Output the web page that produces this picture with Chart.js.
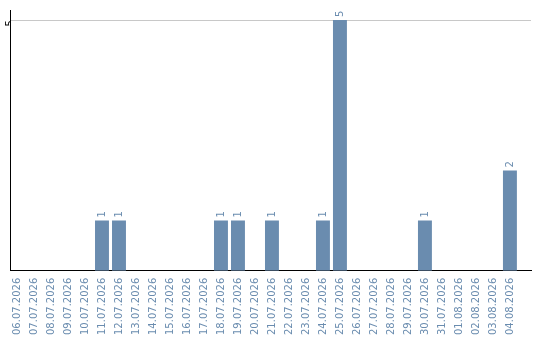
<!DOCTYPE html>
<html>
<head>
<meta charset="utf-8">
<script src="https://cdn.jsdelivr.net/npm/chart.js@4/dist/chart.umd.min.js"></script>
<style>
  html, body { margin: 0; padding: 0; background: #fff; }
  #wrap { width: 540px; height: 340px; position: relative; }
</style>
</head>
<body>
<div id="wrap"><canvas id="c"></canvas></div>
<script>
// Daily counts, 06.07.2026 – 04.08.2026
const dates = [
  '06.07.2026', '07.07.2026', '08.07.2026', '09.07.2026', '10.07.2026',
  '11.07.2026', '12.07.2026', '13.07.2026', '14.07.2026', '15.07.2026',
  '16.07.2026', '17.07.2026', '18.07.2026', '19.07.2026', '20.07.2026',
  '21.07.2026', '22.07.2026', '23.07.2026', '24.07.2026', '25.07.2026',
  '26.07.2026', '27.07.2026', '28.07.2026', '29.07.2026', '30.07.2026',
  '31.07.2026', '01.08.2026', '02.08.2026', '03.08.2026', '04.08.2026'
];
const counts = [
  0, 0, 0, 0, 0,
  1, 1, 0, 0, 0,
  0, 0, 1, 1, 0,
  1, 0, 0, 1, 5,
  0, 0, 0, 0, 1,
  0, 0, 0, 0, 2
];
const yTicks = [5];

const BAR = '#6a8caf';
const FONT = { family: 'DejaVu Sans', size: 10, lineHeight: 1 };

// Rotated value labels above each non-empty bar
const valueLabels = {
  id: 'valueLabels',
  afterDatasetsDraw(chart) {
    const ctx = chart.ctx;
    const meta = chart.getDatasetMeta(0);
    ctx.save();
    ctx.font = '10px "DejaVu Sans"';
    ctx.fillStyle = BAR;
    ctx.textAlign = 'left';
    ctx.textBaseline = 'middle';
    meta.data.forEach((bar, i) => {
      const v = counts[i];
      if (!v) return;
      ctx.save();
      ctx.translate(bar.x, bar.y - 3);
      ctx.rotate(-Math.PI / 2);
      ctx.fillText(String(v), 0, 0);
      ctx.restore();
    });
    ctx.restore();
  }
};

new Chart(document.getElementById('c'), {
  type: 'bar',
  data: {
    datasets: [{
      data: counts.map((v, i) => ({ x: i, y: v })),
      backgroundColor: BAR,
      borderWidth: 0,
      barPercentage: 0.82,
      categoryPercentage: 1
    }]
  },
  options: {
    responsive: true,
    maintainAspectRatio: false,
    animation: false,
    layout: { padding: { left: 0, right: 9, top: 10, bottom: -2 } },
    plugins: { legend: { display: false }, tooltip: { enabled: false } },
    scales: {
      x: {
        type: 'linear',
        min: -7 / 17,
        max: 30.24,
        offset: false,
        afterBuildTicks: s => { s.ticks = dates.map((_, i) => ({ value: i })); },
        grid: { display: false, drawTicks: false },
        border: { display: true, color: '#000', width: 1 },
        ticks: {
          autoSkip: false,
          minRotation: 90,
          maxRotation: 90,
          padding: 7,
          color: BAR,
          font: FONT,
          callback: v => dates[v]
        }
      },
      y: {
        min: 0,
        max: 5.2,
        afterBuildTicks: s => { s.ticks = yTicks.map(v => ({ value: v })); },
        grid: { color: '#c8c8c8', drawTicks: false },
        border: { display: true, color: '#000', width: 1 },
        ticks: {
          minRotation: 90,
          maxRotation: 90,
          padding: 0,
          color: '#000',
          font: FONT
        }
      }
    }
  },
  plugins: [valueLabels]
});
</script>
</body>
</html>
